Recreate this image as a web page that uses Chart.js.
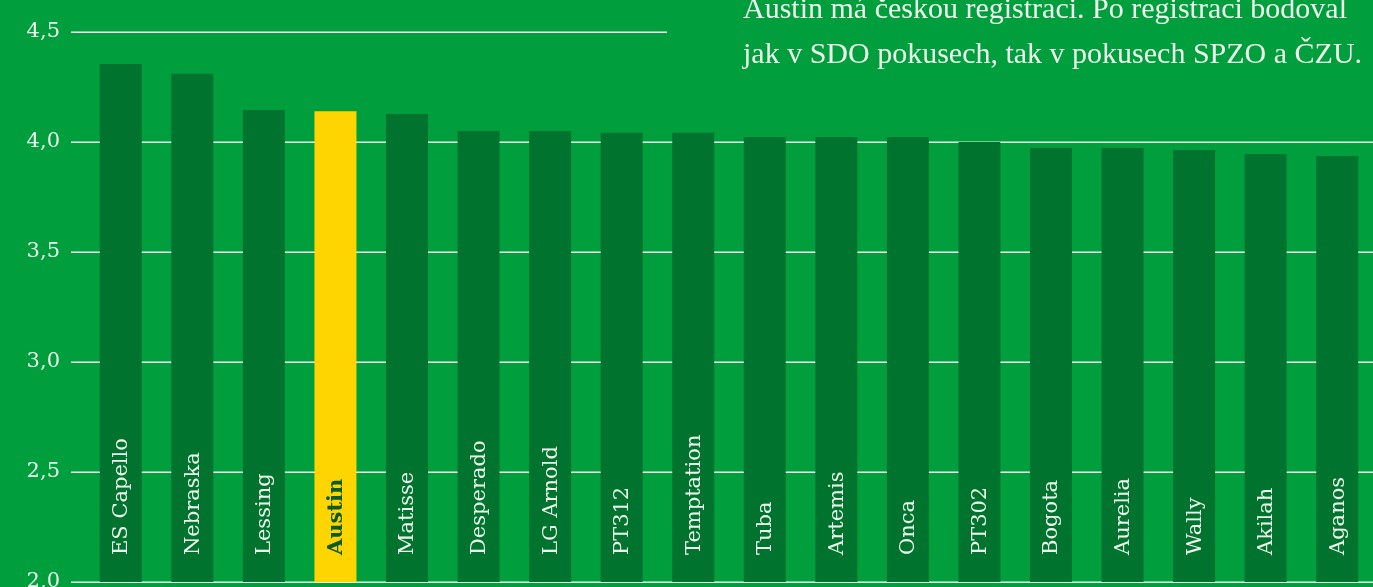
<!DOCTYPE html>
<html lang="cs">
<head>
<meta charset="utf-8">
<title>Austin</title>
<script src="https://cdn.jsdelivr.net/npm/chart.js@4.4.1/dist/chart.umd.min.js"></script>
<style>
    html, body { margin: 0; padding: 0; background: #009e3d; overflow: hidden; }
    #wrap { width: 1373px; height: 587px; position: relative; }
</style>
</head>
<body>
<div id="wrap"><canvas id="graf"></canvas></div>
<script>
// Odrůdy a jejich hodnocení
const odrudy = ['ES Capello', 'Nebraska', 'Lessing', 'Austin', 'Matisse', 'Desperado', 'LG Arnold',
    'PT312', 'Temptation', 'Tuba', 'Artemis', 'Onca', 'PT302', 'Bogota', 'Aurelia', 'Wally', 'Akilah', 'Aganos'];
const hodnoty = [4.355, 4.31, 4.145, 4.14, 4.127, 4.05, 4.05, 4.042, 4.042, 4.023, 4.023, 4.023,
    4.0, 3.973, 3.973, 3.964, 3.945, 3.936];
const osaY = [2.0, 2.5, 3.0, 3.5, 4.0, 4.5];
const zvyraznena = 'Austin';
const poznamka = ['Austin má českou registraci. Po registraci bodoval',
    'jak v SDO pokusech, tak v pokusech SPZO a ČZU.'];

const ZELENA = '#009e3d';
const TMAVA = '#00742f';
const ZLUTA = '#ffd500';
const BILA = '#eef7ec';
const PISMO = '"DejaVu Serif", "Liberation Serif", serif';
const PISMO_TEXT = '"Liberation Serif", serif';

// vodorovné linky mřížky (začínají kousek vlevo od sloupců)
const mrizka = {
    id: 'mrizka',
    beforeDatasetsDraw(chart) {
        const { ctx, chartArea, scales } = chart;
        ctx.save();
        ctx.strokeStyle = BILA;
        ctx.lineWidth = 1.5;
        osaY.forEach(v => {
            const y = Math.round(scales.y.getPixelForValue(v)) + 0.25;
            ctx.beginPath();
            ctx.moveTo(71, y);
            ctx.lineTo(chartArea.right, y);
            ctx.stroke();
        });
        ctx.restore();
    }
};

// popisky otočené uvnitř sloupců
const popisky = {
    id: 'popisky',
    afterDatasetsDraw(chart) {
        const { ctx } = chart;
        const meta = chart.getDatasetMeta(0);
        ctx.save();
        meta.data.forEach((bar, i) => {
            const jeAustin = odrudy[i] === zvyraznena;
            ctx.save();
            ctx.translate(bar.x + 1, 555);
            ctx.rotate(-Math.PI / 2);
            ctx.font = (jeAustin ? 'bold ' : '') + '21px ' + PISMO;
            ctx.fillStyle = jeAustin ? '#0b5a28' : BILA;
            ctx.textAlign = 'left';
            ctx.textBaseline = 'middle';
            ctx.fillText(odrudy[i], 0, 0);
            ctx.restore();
        });
        ctx.restore();
    }
};

// poznámka vpravo nahoře
const text = {
    id: 'text',
    afterDraw(chart) {
        const { ctx } = chart;
        ctx.save();
        ctx.fillStyle = ZELENA;
        ctx.fillRect(667, 0, chart.width - 667, 75);
        ctx.fillStyle = BILA;
        ctx.font = '30px ' + PISMO_TEXT;
        ctx.textAlign = 'left';
        ctx.textBaseline = 'alphabetic';
        ctx.fillText(poznamka[0], 743, 18);
        ctx.fillText(poznamka[1], 743, 63);
        ctx.restore();
    }
};

new Chart(document.getElementById('graf'), {
    type: 'bar',
    data: {
        labels: odrudy,
        datasets: [{
            data: hodnoty,
            backgroundColor: odrudy.map(o => o === zvyraznena ? ZLUTA : TMAVA),
            borderWidth: 0,
            barPercentage: 0.587,
            categoryPercentage: 1.0
        }]
    },
    options: {
        responsive: true,
        maintainAspectRatio: false,
        animation: false,
        layout: { padding: { top: 32, bottom: 5, left: 0, right: 0 } },
        plugins: {
            legend: { display: false },
            tooltip: { enabled: false }
        },
        scales: {
            x: { display: false },
            y: {
                min: 2.0,
                max: 4.5,
                border: { display: false },
                grid: { display: false, drawTicks: false },
                afterBuildTicks: scale => { scale.ticks = osaY.map(v => ({ value: v })); },
                afterFit: scale => {
                    scale.width = 85;
                    scale.paddingTop = 0;
                    scale.paddingBottom = 0;
                },
                ticks: {
                    padding: 25,
                    color: BILA,
                    font: { family: PISMO, size: 21 },
                    callback: v => v.toFixed(1).replace('.', ',')
                }
            }
        }
    },
    plugins: [mrizka, popisky, text]
});
</script>
</body>
</html>
